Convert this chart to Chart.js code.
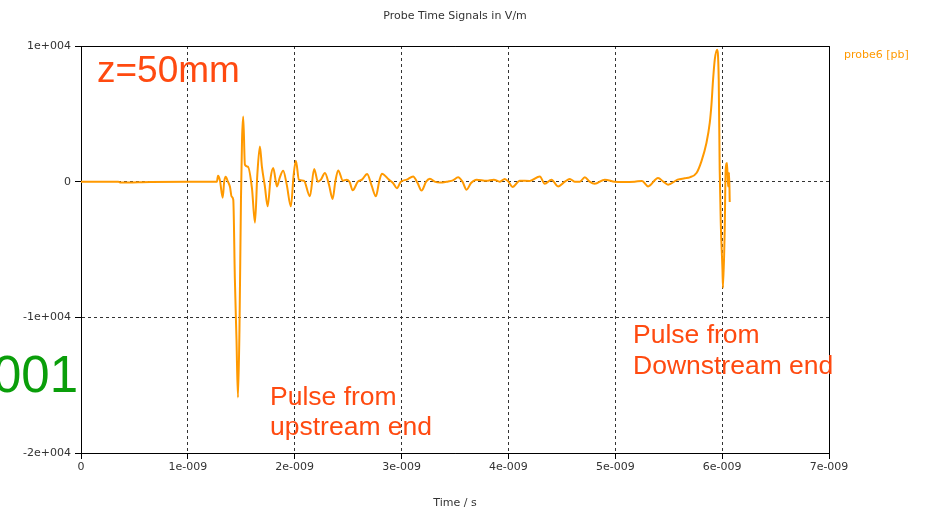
<!DOCTYPE html>
<html>
<head>
<meta charset="utf-8">
<script src="https://cdn.jsdelivr.net/npm/chart.js@4/dist/chart.umd.min.js"></script>
<style>
  html, body { margin: 0; padding: 0; background: #fff; }
  #wrap { width: 931px; height: 511px; }
</style>
</head>
<body>
<div id="wrap"><canvas id="grafico" width="931" height="511"></canvas></div>
<script>
// Tiempo en ns y campo en V/m
const tiempoNs = [
  0, 0.35, 0.37, 0.65, 1.0, 1.2, 1.272, 1.282, 1.3, 1.326, 1.34, 1.354, 1.375, 1.394, 1.41,
  1.425, 1.44, 1.455, 1.469, 1.483, 1.497, 1.507, 1.518, 1.534, 1.562, 1.6, 1.628, 1.65, 1.674,
  1.693, 1.72, 1.747, 1.775, 1.799, 1.834, 1.86, 1.892, 1.925, 1.964, 1.99, 2.011, 2.039, 2.086,
  2.142, 2.182, 2.217, 2.245, 2.283, 2.32, 2.355, 2.38, 2.407, 2.451, 2.488, 2.515, 2.542, 2.591,
  2.63, 2.678, 2.72, 2.76, 2.79, 2.816, 2.881, 2.92, 2.956, 2.993, 3.05, 3.108, 3.15, 3.187,
  3.23, 3.265, 3.31, 3.358, 3.436, 3.48, 3.529, 3.57, 3.608, 3.65, 3.702, 3.795, 3.863, 3.92,
  3.966, 4.0, 4.038, 4.106, 4.2, 4.294, 4.34, 4.403, 4.465, 4.528, 4.574, 4.62, 4.668, 4.715,
  4.76, 4.808, 4.902, 4.995, 5.07, 5.182, 5.25, 5.307, 5.4, 5.45, 5.494, 5.583, 5.65, 5.697,
  5.76, 5.806, 5.853, 5.884, 5.9, 5.915, 5.931, 5.952, 5.968, 5.977, 5.987, 6.003, 6.008, 6.024,
  6.033, 6.046, 6.055, 6.065, 6.071
];
const campoVm = [
  0, 0, -60, -20, 0, 0, 0, 440, 100, -1180, 0, 370, 0, -370, -1100,
  -1330, -7200, -11600, -15900, -10900, -1330, 3100, 4800, 1250, 1100, -500, -3020, 500, 2600,
  1100, -300, -1820, 300, 1000, -350, 300, 800, -200, -1820, 500, 1550, 150, 70,
  -1080, 940, 0, 150, 640, -200, -1270, 0, 830, 70, 150, -50, -640, 0,
  150, 570, -300, -1080, 0, 590, 150, -100, -480, 0, 150, 390, -100, -660,
  0, 220, 0, -70, 20, 100, 320, 0, -590, -100, 150, 70, 150, 0,
  200, 0, -390, 70, 50, 390, -150, 150, -350, 0, 200, 0, 0, 320,
  0, -150, 150, 0, -20, 0, 50, -350, 270, 0, -220, 150, 250, 320,
  640, 1500, 2850, 4330, 5680, 7500, 9000, 9730, 7520, 880, -3020, -6490, -7830, -3540,
  880, 1380, -350, 660, -1500
];

const tituloGrafico = 'Probe Time Signals in V/m';
const tituloEjeX = 'Time / s';
const nombreSerie = 'probe6 [pb]';
const limitesX = [0, 7e-9];
const limitesY = [-2e4, 1e4];

const fuente = 'DejaVu Sans';
const colorSerie = '#ff9900';
const colorNota = '#ff4a10';

const puntos = tiempoNs.map((t, i) => ({ x: t * 1e-9, y: campoVm[i] }));

// Textos y marco superior/derecho
const textosPlugin = {
  id: 'textos',
  afterDraw(chart) {
    const ctx = chart.ctx;
    const area = chart.chartArea;
    ctx.save();

    // marco
    ctx.strokeStyle = '#000';
    ctx.lineWidth = 1;
    ctx.beginPath();
    ctx.moveTo(area.left, area.top + 0.5);
    ctx.lineTo(area.right + 0.5, area.top + 0.5);
    ctx.lineTo(area.right + 0.5, area.bottom);
    ctx.stroke();

    ctx.textBaseline = 'middle';
    ctx.textAlign = 'center';
    ctx.fillStyle = '#333';
    ctx.font = `11px "${fuente}"`;
    ctx.fillText(tituloGrafico, (area.left + area.right) / 2, 16);

    ctx.textAlign = 'left';
    ctx.fillStyle = colorSerie;
    ctx.fillText(nombreSerie, area.right + 15, 55);

    ctx.textBaseline = 'alphabetic';
    ctx.fillStyle = colorNota;
    ctx.font = '37px "Liberation Sans"';
    ctx.fillText('z=50mm', 97, 82);

    ctx.font = '26.5px "Liberation Sans"';
    ctx.fillText('Pulse from', 270, 405);
    ctx.fillText('upstream end', 270, 435);
    ctx.fillText('Pulse from', 633, 343);
    ctx.fillText('Downstream end', 633, 374);

    ctx.fillStyle = '#0a9e0a';
    ctx.font = '51px "Liberation Sans"';
    ctx.textAlign = 'right';
    ctx.fillText('001', 78, 392);

    ctx.restore();
  }
};

new Chart(document.getElementById('grafico').getContext('2d'), {
  type: 'line',
  data: {
    datasets: [{
      label: nombreSerie,
      data: puntos,
      borderColor: colorSerie,
      borderWidth: 2,
      pointRadius: 0,
      cubicInterpolationMode: 'monotone',
      fill: false
    }]
  },
  options: {
    responsive: false,
    animation: false,
    devicePixelRatio: 1,
    layout: { padding: { left: 0, right: 102, top: 46, bottom: 0 } },
    plugins: {
      legend: { display: false },
      title: { display: false },
      tooltip: { enabled: false }
    },
    scales: {
      x: {
        type: 'linear',
        min: limitesX[0],
        max: limitesX[1],
        afterFit: (escala) => { escala.height = 58; },
        ticks: {
          stepSize: 1e-9,
          maxRotation: 0,
          padding: 2,
          color: '#333',
          font: { family: fuente, size: 11 },
          callback: (v) => {
            const n = Math.round(v * 1e9);
            return n === 0 ? '0' : n + 'e-009';
          }
        },
        grid: { color: '#333', tickColor: '#000', tickLength: 6 },
        border: { color: '#000', width: 1, dash: [3, 3] },
        title: {
          display: true,
          text: tituloEjeX,
          color: '#333',
          font: { family: fuente, size: 11 },
          padding: { top: 0, bottom: 1 }
        }
      },
      y: {
        min: limitesY[0],
        max: limitesY[1],
        afterFit: (escala) => { escala.width = 81; },
        ticks: {
          stepSize: 1e4,
          padding: 4,
          color: '#333',
          font: { family: fuente, size: 11 },
          callback: (v) => v === 0 ? '0' : (v / 1e4) + 'e+004'
        },
        grid: { color: '#333', tickColor: '#000', tickLength: 6 },
        border: { color: '#000', width: 1, dash: [3, 3] }
      }
    }
  },
  plugins: [textosPlugin]
});
</script>
</body>
</html>
